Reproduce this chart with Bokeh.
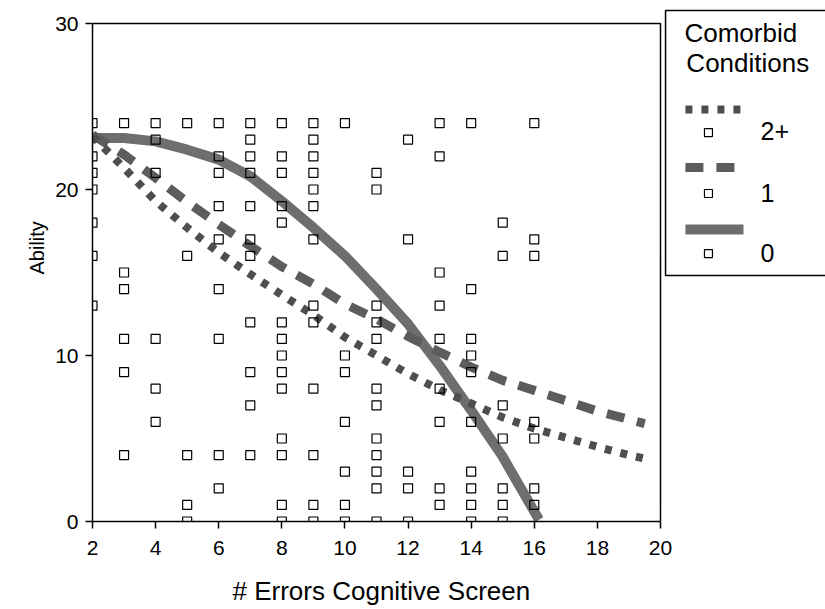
from bokeh.plotting import figure
from bokeh.models import Range1d, FixedTicker, Title
from bokeh.core.properties import value
from bokeh.embed import file_html
from bokeh.resources import INLINE

# ---- data: ability scores at each number of errors on the cognitive screen ----
err_levels = [2, 3, 4, 5, 6, 7, 8, 9, 10, 11, 12, 13, 14, 15, 16]
pts_2 = [24, 22, 21, 20, 18, 16, 13]
pts_3 = [24, 15, 14, 11, 9, 4]
pts_4 = [24, 23, 21, 11, 8, 6]
pts_5 = [24, 16, 4, 1, 0]
pts_6 = [24, 22, 21, 19, 17, 14, 11, 4, 2]
pts_7 = [24, 23, 22, 21, 19, 17, 16, 12, 9, 7, 4]
pts_8 = [24, 22, 21, 19, 18, 12, 11, 10, 9, 8, 5, 4, 1, 0]
pts_9 = [24, 23, 22, 21, 20, 19, 17, 13, 12, 8, 4, 1, 0]
pts_10 = [24, 10, 9, 6, 3, 1, 0]
pts_11 = [21, 20, 13, 12, 11, 8, 7, 5, 4, 3, 2, 0]
pts_12 = [23, 17, 3, 2, 0]
pts_13 = [24, 22, 15, 13, 11, 8, 6, 2, 1]
pts_14 = [24, 14, 11, 10, 9, 6, 3, 2, 1, 0]
pts_15 = [18, 16, 7, 5, 2, 1, 0]
pts_16 = [24, 17, 16, 6, 5, 2, 1]
columns = [pts_2, pts_3, pts_4, pts_5, pts_6, pts_7, pts_8, pts_9, pts_10,
           pts_11, pts_12, pts_13, pts_14, pts_15, pts_16]

# fitted curves by number of comorbid conditions
fit0_x = [2, 3, 4, 5, 6, 7, 8, 9, 10, 11, 12, 13, 14, 15, 16, 16.15]
fit0_y = [23.1, 23.1, 22.9, 22.4, 21.8, 20.8, 19.3, 17.7, 16.0, 14.0, 11.9, 9.4, 6.7, 3.9, 0.6, 0.1]
fit1_x = [2, 3, 4, 5, 6, 7, 8, 9, 10, 11, 12, 13, 14, 15, 16, 17, 18, 19, 19.5]
fit1_y = [23.3, 22.1, 20.7, 19.25, 17.9, 16.6, 15.35, 14.3, 13.1, 12.2, 11.15, 10.2, 9.3, 8.5, 7.9, 7.28, 6.65, 6.15, 5.9]
fit2_x = [2, 3, 4, 5, 6, 7, 8, 9, 10, 11, 12, 13, 14, 15, 16, 17, 18, 19, 19.6]
fit2_y = [23.2, 21.3, 19.3, 17.7, 16.2, 14.9, 13.65, 12.45, 11.1, 10.0, 8.9, 7.93, 7.11, 6.27, 5.6, 5.05, 4.5, 4.0, 3.75]

x_ticks = [2, 4, 6, 8, 10, 12, 14, 16, 18, 20]
y_ticks = [0, 10, 20, 30]
legend_title = ["Comorbid", "Conditions"]
legend_labels = ["2+", "1", "0"]

scatter_x = []
scatter_y = []
for xv, col in zip(err_levels, columns):
    for yv in col:
        scatter_x.append(xv)
        scatter_y.append(yv)

FONT = "Liberation Sans"
C0, C1, C2 = "#6e6e6e", "#5c5c5c", "#4e4e4e"
STYLE0 = dict(line_color=C0, line_width=10, line_cap="butt")
STYLE1 = dict(line_color=C1, line_width=9, line_dash="18 13", line_cap="butt")
STYLE2 = dict(line_color=C2, line_width=8, line_dash="7 9", line_cap="butt")

# The frame extends to the right of x=20 / above y=30 so that the legend
# panel can be drawn inside it; axes are bounded to the data area.
p = figure(frame_width=733, frame_height=521,
           x_range=Range1d(2, 25.229), y_range=Range1d(0, 31.386),
           output_backend="svg", toolbar_location=None,
           min_border_left=92, min_border_right=0,
           min_border_top=0, min_border_bottom=88)
p.background_fill_color = "white"
p.border_fill_color = "white"
p.outline_line_color = None
p.xgrid.visible = False
p.ygrid.visible = False

for ax in (p.xaxis[0], p.yaxis[0]):
    ax.axis_line_width = 1.5
    ax.major_tick_line_width = 1.5
    ax.major_tick_in = 0
    ax.major_tick_out = 7
    ax.minor_tick_line_color = None
    ax.major_label_text_font = FONT
    ax.major_label_text_font_size = "21px"
    ax.major_label_text_color = "black"

p.xaxis.ticker = FixedTicker(ticks=x_ticks)
p.yaxis.ticker = FixedTicker(ticks=y_ticks)
p.xaxis.bounds = (x_ticks[0], x_ticks[-1])
p.yaxis.bounds = (y_ticks[0], y_ticks[-1])
p.xaxis.major_label_standoff = 12
p.yaxis.major_label_standoff = 7

p.add_layout(Title(text="# Errors Cognitive Screen", align="left", offset=140,
                   text_font=FONT, text_font_size="26px", text_font_style="normal",
                   text_color="black", standoff=32), "below")
p.add_layout(Title(text="Ability", align="left", offset=247,
                   text_font=FONT, text_font_size="20px", text_font_style="normal",
                   text_color="black", standoff=10), "left")

# top and right border of the data area
p.line([x_ticks[0], x_ticks[-1], x_ticks[-1]], [y_ticks[-1], y_ticks[-1], y_ticks[0]],
       line_color="black", line_width=1.5)

# fitted curves
p.line(fit0_x, fit0_y, **STYLE0)
p.line(fit1_x, fit1_y, **STYLE1)
p.line(fit2_x, fit2_y, **STYLE2)

# observations
p.scatter(scatter_x, scatter_y, marker="square", size=9, fill_color=None,
          line_color="black", line_width=1.2)

# ---- legend panel (drawn in data space to the right of x=20) ----
LX0, LX1, LY0, LY1 = 20.16, 26.0, 14.82, 30.78
p.quad(left=[LX0], right=[LX1], bottom=[LY0], top=[LY1],
       fill_color="white", line_color="black", line_width=1.5)
p.text(x=[20.76, 20.82], y=[29.45, 27.6], text=legend_title,
       text_font=value(FONT), text_font_size="26px", text_color="black",
       text_baseline="alphabetic", text_align="left")

sample_x = [20.79, 22.63]
sample_y = [24.82, 21.33, 17.59]
marker_y = [23.43, 19.76, 16.14]
label_y = [23.55, 19.76, 16.2]
for sy, st in zip(sample_y, (STYLE2, STYLE1, STYLE0)):
    p.line(sample_x, [sy, sy], **st)
p.scatter([21.52] * 3, marker_y, marker="square", size=8, fill_color=None,
          line_color="black", line_width=1.2)
p.text(x=[23.17, 23.17, 23.17], y=label_y, text=legend_labels,
       text_font=value(FONT), text_font_size="25px", text_color="black",
       text_baseline="alphabetic", text_align="left")

open("out.html", "w").write(file_html(p, INLINE))
